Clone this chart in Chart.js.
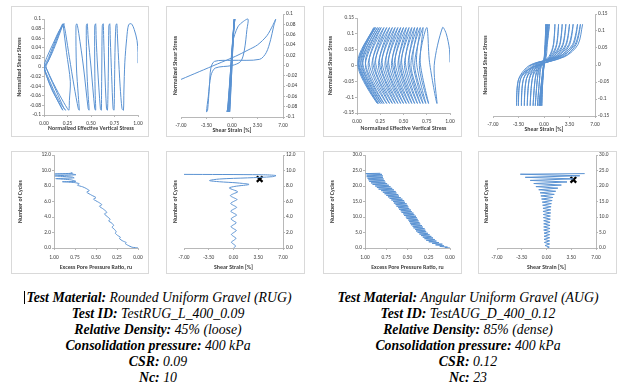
<!DOCTYPE html>
<html>
<head>
<meta charset="utf-8">
<script src="https://cdn.jsdelivr.net/npm/chart.js@4.4.1/dist/chart.umd.min.js"></script>
<style>
  body { margin: 0; width: 618px; height: 387px; background: #fff; position: relative; overflow: hidden; }
  .frame { position: absolute; border: 1px solid #d9d9d9; box-sizing: border-box; }
  canvas { position: absolute; }
  .info { position: absolute; top: 290px; width: 316px; text-align: center; font-family: "Liberation Serif", "Times New Roman", serif; font-size: 13.8px; line-height: 16px; font-style: italic; color: #000; }
  .info b { font-weight: bold; }
  .caret { display: inline-block; width: 0; height: 13px; border-left: 1px solid #000; vertical-align: -2px; margin-right: 1px; }
</style>
</head>
<body>
<div class="frame" style="left:11px;top:6px;width:138px;height:131px"></div>
<div class="frame" style="left:166px;top:6px;width:139px;height:131px"></div>
<div class="frame" style="left:323px;top:6px;width:139px;height:131px"></div>
<div class="frame" style="left:478px;top:6px;width:139px;height:131px"></div>
<div class="frame" style="left:11px;top:151px;width:138px;height:123px"></div>
<div class="frame" style="left:166px;top:151px;width:139px;height:123px"></div>
<div class="frame" style="left:323px;top:151px;width:139px;height:123px"></div>
<div class="frame" style="left:478px;top:151px;width:139px;height:123px"></div>

<canvas id="rugPath" width="138" height="131" style="left:11px;top:6px"></canvas>
<canvas id="rugLoop" width="139" height="131" style="left:166px;top:6px"></canvas>
<canvas id="augPath" width="139" height="131" style="left:323px;top:6px"></canvas>
<canvas id="augLoop" width="139" height="131" style="left:478px;top:6px"></canvas>
<canvas id="rugRu" width="138" height="123" style="left:11px;top:151px"></canvas>
<canvas id="rugStrain" width="139" height="123" style="left:166px;top:151px"></canvas>
<canvas id="augRu" width="139" height="123" style="left:323px;top:151px"></canvas>
<canvas id="augStrain" width="139" height="123" style="left:478px;top:151px"></canvas>

<div class="info" style="left:0px">
  <span class="caret"></span><b>Test Material:</b> Rounded Uniform Gravel (RUG)<br>
  <b>Test ID:</b> TestRUG_L_400_0.09<br>
  <b>Relative Density:</b> 45% (loose)<br>
  <b>Consolidation pressure:</b> 400 kPa<br>
  <b>CSR:</b> 0.09<br>
  <b>Nc:</b> 10
</div>
<div class="info" style="left:310px">
  <b>Test Material:</b> Angular Uniform Gravel (AUG)<br>
  <b>Test ID:</b> TestAUG_D_400_0.12<br>
  <b>Relative Density:</b> 85% (dense)<br>
  <b>Consolidation pressure:</b> 400 kPa<br>
  <b>CSR:</b> 0.12<br>
  <b>Nc:</b> 23
</div>

<script>
// tick values
const ticksRatio = [0, 0.25, 0.5, 0.75, 1];
const ticksStrain = [-7, -3.5, 0, 3.5, 7];
const ticksShearRug = [-0.1, -0.08, -0.06, -0.04, -0.02, 0, 0.02, 0.04, 0.06, 0.08, 0.1];
const ticksShearAug = [-0.15, -0.1, -0.05, 0, 0.05, 0.1, 0.15];
const ticksCyclesRug = [0, 2, 4, 6, 8, 10, 12];
const ticksCyclesAug = [0, 5, 10, 15, 20, 25, 30];

// RUG: [normalized effective vertical stress, normalized shear stress]
const rugStressPath = [
  [1.00, 0.008], [1.00, 0.03], [0.99, 0.055], [0.96, 0.078], [0.93, 0.09], [0.90, 0.088], [0.88, 0.06], [0.86, 0.01],
  [0.85, -0.05], [0.845, -0.09], [0.83, -0.087], [0.81, -0.04], [0.79, 0.03], [0.78, 0.07], [0.775, 0.09], [0.765, 0.087],
  [0.755, 0.03], [0.75, -0.04], [0.745, -0.09], [0.735, -0.087], [0.72, -0.02], [0.705, 0.06], [0.70, 0.09], [0.69, 0.086],
  [0.685, 0.0], [0.68, -0.06], [0.675, -0.09], [0.665, -0.087], [0.645, 0.0], [0.635, 0.06], [0.63, 0.09], [0.62, 0.086],
  [0.615, 0.0], [0.612, -0.06], [0.61, -0.09], [0.60, -0.087], [0.57, 0.0], [0.555, 0.06], [0.55, 0.09], [0.54, 0.086],
  [0.54, 0.0], [0.545, -0.06], [0.55, -0.09], [0.54, -0.087], [0.50, 0.0], [0.47, 0.06], [0.46, 0.09], [0.45, 0.086],
  [0.455, 0.0], [0.47, -0.06], [0.48, -0.09], [0.47, -0.087], [0.42, 0.0], [0.37, 0.07], [0.35, 0.09], [0.34, 0.086],
  [0.345, 0.0], [0.365, -0.06], [0.375, -0.09], [0.365, -0.087], [0.32, -0.04], [0.27, 0.02], [0.23, 0.07], [0.21, 0.09],
  [0.205, 0.087], [0.24, 0.03], [0.28, -0.03], [0.27, -0.07], [0.265, -0.09], [0.25, -0.087], [0.17, -0.06], [0.09, -0.03],
  [0.03, -0.005], [0.02, 0.0], [0.05, 0.015], [0.12, 0.05], [0.17, 0.075], [0.20, 0.09], [0.19, 0.087], [0.12, 0.055],
  [0.05, 0.02], [0.01, 0.0], [0.03, -0.02], [0.09, -0.05], [0.16, -0.075], [0.20, -0.09], [0.19, -0.087], [0.12, -0.06],
  [0.04, -0.025], [0.0, 0.0], [0.03, 0.02], [0.10, 0.05], [0.16, 0.075], [0.215, 0.09], [0.20, 0.087], [0.12, 0.045],
  [0.04, 0.01], [0.0, 0.0], [0.04, -0.02], [0.12, -0.055], [0.19, -0.08], [0.23, -0.09], [0.215, -0.087], [0.13, -0.05],
  [0.05, -0.015], [0.02, 0.0]
];

// RUG: [shear strain %, normalized shear stress]
const rugStressStrain = [
  [0.0, 0.005], [0.15, 0.05], [0.3, 0.09], [0.25, 0.086], [0.0, 0.0], [-0.25, -0.07], [-0.32, -0.09], [-0.28, -0.086],
  [0.0, 0.0], [0.2, 0.06], [0.32, 0.09], [0.27, 0.086], [-0.05, 0.0], [-0.3, -0.07], [-0.4, -0.09], [-0.35, -0.086],
  [-0.05, 0.0], [0.2, 0.065], [0.35, 0.09], [0.3, 0.086], [-0.08, 0.0], [-0.4, -0.075], [-0.5, -0.09], [-0.45, -0.086],
  [-0.1, 0.0], [0.15, 0.06], [0.38, 0.09], [0.32, 0.086], [-0.1, 0.0], [-0.5, -0.08], [-0.6, -0.09], [-0.55, -0.086],
  [-0.15, 0.0], [0.2, 0.07], [0.42, 0.09], [0.36, 0.086], [-0.15, -0.005], [-0.55, -0.08], [-0.7, -0.09], [-0.62, -0.086],
  [-0.2, -0.01], [0.1, 0.045], [0.8, 0.075], [1.6, 0.086], [2.2, 0.09], [2.05, 0.07], [1.7, 0.03], [1.2, 0.008],
  [0.0, 0.0], [-2.3, -0.005], [-2.9, -0.02], [-3.25, -0.06], [-3.5, -0.09], [-3.35, -0.087], [-3.1, -0.04], [-2.9, -0.005],
  [-2.4, 0.008], [0.0, 0.01], [3.8, 0.012], [4.7, 0.025], [5.3, 0.05], [5.7, 0.075], [6.0, 0.09], [5.6, 0.078],
  [4.8, 0.058], [3.5, 0.04], [2.2, 0.03], [0.5, 0.018], [-2.0, 0.003], [-4.5, -0.012], [-7.0, -0.027]
];

// AUG: [normalized effective vertical stress, normalized shear stress]
const augStressPath = [
  [1.00, 0.01], [0.995, 0.05], [0.96, 0.10], [0.92, 0.12],
  [0.83, 0.0], [0.86, -0.12], [0.78, 0.01], [0.75, 0.12],
  [0.67, 0.0], [0.77, -0.12], [0.68, 0.01], [0.71, 0.12],
  [0.62, 0.0], [0.74, -0.12], [0.64, 0.01], [0.68, 0.12],
  [0.58, 0.0], [0.71, -0.12], [0.60, 0.01], [0.65, 0.12],
  [0.55, 0.0], [0.68, -0.12], [0.56, 0.01], [0.62, 0.12],
  [0.51, 0.0], [0.65, -0.12], [0.52, 0.01], [0.59, 0.12],
  [0.47, 0.0], [0.62, -0.12], [0.48, 0.01], [0.56, 0.12],
  [0.44, 0.0], [0.59, -0.12], [0.45, 0.01], [0.53, 0.12],
  [0.40, 0.0], [0.56, -0.12], [0.41, 0.01], [0.50, 0.12],
  [0.37, 0.0], [0.53, -0.12], [0.38, 0.01], [0.47, 0.12],
  [0.33, 0.0], [0.50, -0.12], [0.34, 0.01], [0.44, 0.12],
  [0.30, 0.0], [0.47, -0.12], [0.31, 0.01], [0.41, 0.12],
  [0.26, 0.0], [0.44, -0.12], [0.27, 0.01], [0.38, 0.12],
  [0.23, 0.0], [0.41, -0.12], [0.24, 0.01], [0.35, 0.12],
  [0.19, 0.0], [0.38, -0.12], [0.20, 0.01], [0.32, 0.12],
  [0.16, 0.0], [0.35, -0.12], [0.17, 0.01], [0.29, 0.12],
  [0.12, 0.0], [0.32, -0.12], [0.13, 0.01], [0.26, 0.12],
  [0.09, 0.0], [0.29, -0.12], [0.09, 0.01], [0.24, 0.12],
  [0.06, 0.0], [0.27, -0.12], [0.06, 0.01], [0.22, 0.12],
  [0.04, 0.0], [0.25, -0.12], [0.04, 0.01], [0.20, 0.12],
  [0.02, 0.0], [0.23, -0.12], [0.02, 0.01], [0.19, 0.12],
  [0.01, 0.0], [0.22, -0.12], [0.01, 0.01], [0.18, 0.12]
];

// AUG: [shear strain %, normalized shear stress]
const augStressStrain = [
  [0.0, 0.0], [0.15, 0.06], [0.25, 0.12], [0.15, 0.06], [-0.05, 0.0], [-0.2, -0.06], [-0.3, -0.12], [-0.2, -0.06],
  [0.0, 0.0], [0.2, 0.06], [0.3, 0.12], [0.2, 0.06], [-0.05, 0.0], [-0.25, -0.06], [-0.4, -0.12], [-0.25, -0.06],
  [0.0, 0.0], [0.25, 0.06], [0.4, 0.12], [0.25, 0.06], [-0.05, 0.0], [-0.3, -0.06], [-0.5, -0.12], [-0.3, -0.06],
  [0.0, 0.0], [0.3, 0.06], [0.5, 0.12], [0.3, 0.06], [-0.05, 0.0], [-0.35, -0.06], [-0.6, -0.12], [-0.35, -0.06],
  [0.0, 0.0], [0.35, 0.06], [0.6, 0.12], [0.35, 0.06], [-0.1, 0.0], [-0.4, -0.06], [-0.7, -0.12], [-0.4, -0.06],
  [0.0, 0.0], [0.4, 0.06], [0.75, 0.12],
  [0.45, 0.06], [0.25, 0.02], [-0.45, 0.0], [-0.6, -0.04], [-0.9, -0.12],
  [-0.6, -0.04], [-0.36, -0.005], [0.83, 0.025], [1.32, 0.06], [1.5, 0.12],
  [1.28, 0.06], [0.68, 0.025], [-0.6, 0.0], [-0.9, -0.04], [-1.2, -0.12],
  [-0.9, -0.04], [-0.48, -0.005], [1.1, 0.025], [1.76, 0.06], [2.0, 0.12],
  [1.7, 0.06], [0.9, 0.025], [-0.75, 0.0], [-1.2, -0.04], [-1.5, -0.12],
  [-1.2, -0.04], [-0.6, -0.005], [1.38, 0.025], [2.2, 0.06], [2.5, 0.12],
  [2.13, 0.06], [1.13, 0.025], [-0.95, 0.0], [-1.6, -0.04], [-1.9, -0.12],
  [-1.6, -0.04], [-0.76, -0.005], [1.65, 0.025], [2.64, 0.06], [3.0, 0.12],
  [2.55, 0.06], [1.35, 0.025], [-1.15, 0.0], [-2.0, -0.04], [-2.3, -0.12],
  [-2.0, -0.04], [-0.92, -0.005], [1.93, 0.025], [3.08, 0.06], [3.5, 0.12],
  [2.98, 0.06], [1.58, 0.025], [-1.35, 0.0], [-2.4, -0.04], [-2.7, -0.12],
  [-2.4, -0.04], [-1.08, -0.005], [2.2, 0.025], [3.52, 0.06], [4.0, 0.12],
  [3.4, 0.06], [1.8, 0.025], [-1.55, 0.0], [-2.8, -0.04], [-3.1, -0.12],
  [-2.8, -0.04], [-1.24, -0.005], [2.53, 0.025], [4.05, 0.06], [4.6, 0.12],
  [3.91, 0.06], [2.07, 0.025], [-1.75, 0.0], [-3.2, -0.04], [-3.5, -0.12],
  [-3.2, -0.04], [-1.4, -0.005], [2.75, 0.025], [4.4, 0.06], [5.0, 0.12],
  [4.25, 0.06], [2.25, 0.025], [-1.9, 0.0], [-3.45, -0.04], [-3.75, -0.12],
  [-3.45, -0.04], [-1.5, -0.005], [2.9, 0.025], [4.66, 0.06], [5.3, 0.12]
];

// RUG: [excess pore pressure ratio ru, number of cycles]
const rugPoreRatio = [
  [0.00, 0.00], [0.03, 0.05], [0.07, 0.10], [0.12, 0.35], [0.15, 0.55], [0.14, 0.7], [0.18, 0.9], [0.22, 1.2],
  [0.21, 1.4], [0.24, 1.6], [0.27, 1.9], [0.26, 2.1], [0.28, 2.4], [0.31, 2.7], [0.29, 2.9], [0.31, 3.2],
  [0.35, 3.5], [0.33, 3.7], [0.36, 4.0], [0.40, 4.4], [0.37, 4.6], [0.41, 5.0], [0.46, 5.4], [0.43, 5.6],
  [0.47, 5.9], [0.53, 6.3], [0.50, 6.5], [0.55, 6.8], [0.61, 7.2], [0.58, 7.4], [0.62, 7.7], [0.66, 7.9],
  [0.72, 8.1], [0.70, 8.3], [0.76, 8.45], [0.90, 8.55], [0.74, 8.6], [0.80, 8.8], [0.98, 8.95], [0.76, 9.05],
  [0.78, 9.15], [0.99, 9.3], [0.74, 9.45], [0.79, 9.55], [0.99, 9.55], [0.78, 9.65], [0.80, 9.75]
];

// RUG: [shear strain %, number of cycles]
const rugCycleStrain = [
  [0.0, 0.0], [0.3, 0.25], [0.0, 0.5], [-0.3, 0.75], [0.05, 1.0], [0.35, 1.25], [0.0, 1.5], [-0.3, 1.75],
  [0.05, 2.0], [0.4, 2.25], [0.0, 2.5], [-0.35, 2.75], [0.0, 3.0], [0.4, 3.25], [0.0, 3.5], [-0.35, 3.75],
  [0.0, 4.0], [0.45, 4.25], [0.0, 4.5], [-0.4, 4.75], [0.0, 5.0], [0.45, 5.25], [0.0, 5.5], [-0.4, 5.75],
  [0.0, 6.0], [0.5, 6.25], [0.0, 6.5], [-0.45, 6.75], [0.0, 7.0], [0.6, 7.25], [0.0, 7.5], [-0.6, 7.75],
  [0.2, 7.95], [2.2, 8.2], [0.5, 8.4], [-2.0, 8.55], [-3.4, 8.7], [-2.0, 8.9], [2.0, 9.05], [5.5, 9.2],
  [6.0, 9.35], [4.0, 9.45], [-7.0, 9.5]
];
const rugFailure = [[3.7, 8.9]];

// AUG: [excess pore pressure ratio ru, number of cycles]
const augPoreRatio = [
  [0.00, 0.0], [0.06, 0.15], [0.03, 0.3], [0.12, 0.5], [0.07, 0.7], [0.17, 1.0], [0.09, 1.25], [0.21, 1.5],
  [0.13, 1.75], [0.25, 2.0], [0.16, 2.25], [0.28, 2.5], [0.18, 2.75], [0.30, 3.0], [0.20, 3.25], [0.32, 3.5],
  [0.22, 3.75], [0.34, 4.0], [0.24, 4.25], [0.36, 4.5], [0.26, 4.75], [0.38, 5.0], [0.28, 5.25], [0.40, 5.5],
  [0.29, 5.75], [0.41, 6.0], [0.30, 6.25], [0.43, 6.5], [0.32, 6.75], [0.44, 7.0], [0.33, 7.25], [0.46, 7.5],
  [0.35, 7.75], [0.47, 8.0], [0.36, 8.25], [0.48, 8.5], [0.37, 8.75], [0.49, 9.0], [0.38, 9.25], [0.51, 9.5],
  [0.39, 9.75], [0.52, 10.0], [0.40, 10.25], [0.54, 10.5], [0.42, 10.75], [0.55, 11.0], [0.43, 11.25], [0.57, 11.5],
  [0.45, 11.75], [0.58, 12.0], [0.46, 12.25], [0.60, 12.5], [0.48, 12.75], [0.61, 13.0], [0.49, 13.25], [0.63, 13.5],
  [0.50, 13.75], [0.64, 14.0], [0.51, 14.25], [0.66, 14.5], [0.53, 14.75], [0.67, 15.0], [0.54, 15.25], [0.69, 15.5],
  [0.56, 15.75], [0.71, 16.0], [0.58, 16.25], [0.73, 16.5], [0.60, 16.75], [0.75, 17.0], [0.61, 17.25], [0.77, 17.5],
  [0.63, 17.75], [0.79, 18.0], [0.64, 18.25], [0.81, 18.5], [0.66, 18.75], [0.84, 19.0], [0.68, 19.25], [0.86, 19.5],
  [0.70, 19.75], [0.88, 20.0], [0.72, 20.25], [0.91, 20.5], [0.74, 20.75], [0.93, 21.0], [0.76, 21.25], [0.95, 21.5],
  [0.77, 21.75], [0.96, 22.0], [0.78, 22.25], [0.97, 22.5], [0.79, 22.75], [0.98, 23.0], [0.79, 23.25], [0.98, 23.5],
  [0.80, 23.75], [0.99, 24.0], [0.82, 24.1]
];

// AUG: [shear strain %, number of cycles]
const augCycleStrain = [
  [0.1, 0.0], [0.4, 0.3], [-0.2, 0.8], [0.45, 1.3], [-0.3, 1.8], [0.45, 2.3], [-0.35, 2.8], [0.45, 3.3],
  [-0.35, 3.8], [0.45, 4.3], [-0.35, 4.8], [0.5, 5.3], [-0.4, 5.8], [0.5, 6.3], [-0.4, 6.8], [0.5, 7.3],
  [-0.4, 7.8], [0.5, 8.3], [-0.4, 8.8], [0.55, 9.3], [-0.45, 9.8], [0.55, 10.3], [-0.45, 10.8], [0.6, 11.3],
  [-0.5, 11.8], [0.6, 12.3], [-0.5, 12.8], [0.65, 13.3], [-0.55, 13.8], [0.7, 14.3], [-0.6, 14.8], [0.8, 15.3],
  [-0.7, 15.8], [0.9, 16.3], [-0.8, 16.8], [1.1, 17.3], [-0.9, 17.8], [1.3, 18.3], [-1.1, 18.8], [1.6, 19.3],
  [-1.5, 19.8], [2.1, 20.3], [-1.8, 20.8], [2.9, 21.3], [-2.3, 21.8], [3.8, 22.3], [-3.0, 22.8], [4.7, 23.3],
  [-3.7, 23.8], [5.4, 24.0]
];
const augFailure = [[3.8, 22.0]];

const FONT = "Carlito, Lato, sans-serif";
const AXIS_GREY = "#a6a6a6";
const TEXT_GREY = "#404040";
const LINE_BLUE = "#5a92d2";

const fmt1 = (v) => v.toFixed(1);
const fmt2 = (v) => v.toFixed(2);
const fmtGeneral = (v) => String(Number(v.toFixed(2)));

// pin the scale box to a fixed size so the plot area sits where it should
function fitTo(size) {
  return function (scale) {
    if (scale.isHorizontal()) scale.height = size;
    else scale.width = size;
    scale.paddingLeft = scale.paddingRight = scale.paddingTop = scale.paddingBottom = 0;
  };
}

function linearAxis(position, tickList, fmt, title, size, tickPad, reverse) {
  return {
    type: "linear",
    position: position,
    reverse: !!reverse,
    min: tickList[0],
    max: tickList[tickList.length - 1],
    afterBuildTicks: (scale) => {
      scale.ticks = tickList.map((v) => ({ value: v }));
    },
    afterFit: fitTo(size),
    ticks: {
      callback: fmt,
      autoSkip: false,
      maxRotation: 0,
      padding: tickPad,
      color: TEXT_GREY,
      font: { family: FONT, size: 5.4 },
    },
    grid: { drawOnChartArea: false, tickLength: 2, color: AXIS_GREY, lineWidth: 0.8 },
    border: { color: AXIS_GREY, width: 0.8 },
    title: {
      display: !!title,
      text: title || "",
      padding: 0,
      color: TEXT_GREY,
      font: { family: FONT, size: 5.9, weight: "bold" },
    },
  };
}

// Excel keeps the value-axis title on the left even when the labels sit on the right
function titleAxis(title, size) {
  return {
    type: "linear",
    position: "left",
    min: 0,
    max: 1,
    afterFit: fitTo(size),
    ticks: { display: false },
    grid: { display: false },
    border: { display: false },
    title: {
      display: true,
      text: title,
      padding: 0,
      color: TEXT_GREY,
      font: { family: FONT, size: 5.9, weight: "bold" },
    },
  };
}

function lineSeries(pairs, tension) {
  return {
    data: pairs.map(([x, y]) => ({ x: x, y: y })),
    showLine: true,
    fill: false,
    borderColor: LINE_BLUE,
    borderWidth: 1,
    pointRadius: 0,
    tension: tension || 0,
  };
}

function failureMark(pairs) {
  return {
    data: pairs.map(([x, y]) => ({ x: x, y: y })),
    showLine: false,
    pointStyle: "crossRot",
    pointRadius: 4,
    borderWidth: 2.2,
    borderColor: "#000",
    backgroundColor: "#000",
  };
}

function makePanel(id, datasets, scales, padding) {
  return new Chart(document.getElementById(id), {
    type: "scatter",
    data: { datasets: datasets },
    options: {
      responsive: false,
      animation: false,
      devicePixelRatio: 1,
      events: [],
      layout: { padding: padding, autoPadding: false },
      plugins: { legend: { display: false }, tooltip: { enabled: false } },
      scales: scales,
    },
  });
}

// top row
makePanel("rugPath", [lineSeries(rugStressPath, 0.3)], {
  x: linearAxis("bottom", ticksRatio, fmt2, "Normalized Effective Vertical Stress", 17, 3),
  y: linearAxis("left", ticksShearRug, fmtGeneral, "Normalized Shear Stress", 28, 1),
}, { left: 5, right: 11, top: 13, bottom: 5 });

makePanel("rugLoop", [lineSeries(rugStressStrain, 0.3)], {
  x: linearAxis("bottom", ticksStrain, fmt2, "Shear Strain [%]", 17, 3),
  y: linearAxis("right", ticksShearRug, fmtGeneral, null, 19, 1),
  yTitle: titleAxis("Normalized Shear Stress", 9),
}, { left: 6, right: 3, top: 8, bottom: 3 });

makePanel("augPath", [lineSeries(augStressPath, 0.3)], {
  x: linearAxis("bottom", ticksRatio, fmt2, "Normalized Effective Vertical Stress", 19, 3),
  y: linearAxis("left", ticksShearAug, fmtGeneral, "Normalized Shear Stress", 30, 1),
}, { left: 4, right: 12, top: 12, bottom: 5 });

makePanel("augLoop", [lineSeries(augStressStrain, 0.3)], {
  x: linearAxis("bottom", ticksStrain, fmt2, "Shear Strain [%]", 17, 3),
  y: linearAxis("right", ticksShearAug, fmtGeneral, null, 19, 1),
  yTitle: titleAxis("Normalized Shear Stress", 11),
}, { left: 4, right: 3, top: 8, bottom: 4 });

// bottom row
makePanel("rugRu", [lineSeries(rugPoreRatio, 0.2)], {
  x: linearAxis("bottom", ticksRatio, fmt2, "Excess Pore Pressure Ratio, ru", 23, 4, true),
  y: linearAxis("left", ticksCyclesRug, fmt1, "Number of Cycles", 37, 1),
}, { left: 6, right: 11, top: 4, bottom: 3 });

makePanel("rugStrain", [lineSeries(rugCycleStrain, 0.3), failureMark(rugFailure)], {
  x: linearAxis("bottom", ticksStrain, fmt2, "Shear Strain [%]", 23, 4),
  y: linearAxis("right", ticksCyclesRug, fmt1, null, 19, 1),
  yTitle: titleAxis("Number of Cycles", 12),
}, { left: 6, right: 3, top: 4, bottom: 3 });

makePanel("augRu", [lineSeries(augPoreRatio)], {
  x: linearAxis("bottom", ticksRatio, fmt2, "Excess Pore Pressure Ratio, ru", 23, 4, true),
  y: linearAxis("left", ticksCyclesAug, fmt1, "Number of Cycles", 36, 1),
}, { left: 6, right: 12, top: 4, bottom: 3 });

makePanel("augStrain", [lineSeries(augCycleStrain), failureMark(augFailure)], {
  x: linearAxis("bottom", ticksStrain, fmt2, "Shear Strain [%]", 23, 4),
  y: linearAxis("right", ticksCyclesAug, fmt1, null, 19, 1),
  yTitle: titleAxis("Number of Cycles", 14),
}, { left: 5, right: 2, top: 4, bottom: 3 });
</script>
</body>
</html>
